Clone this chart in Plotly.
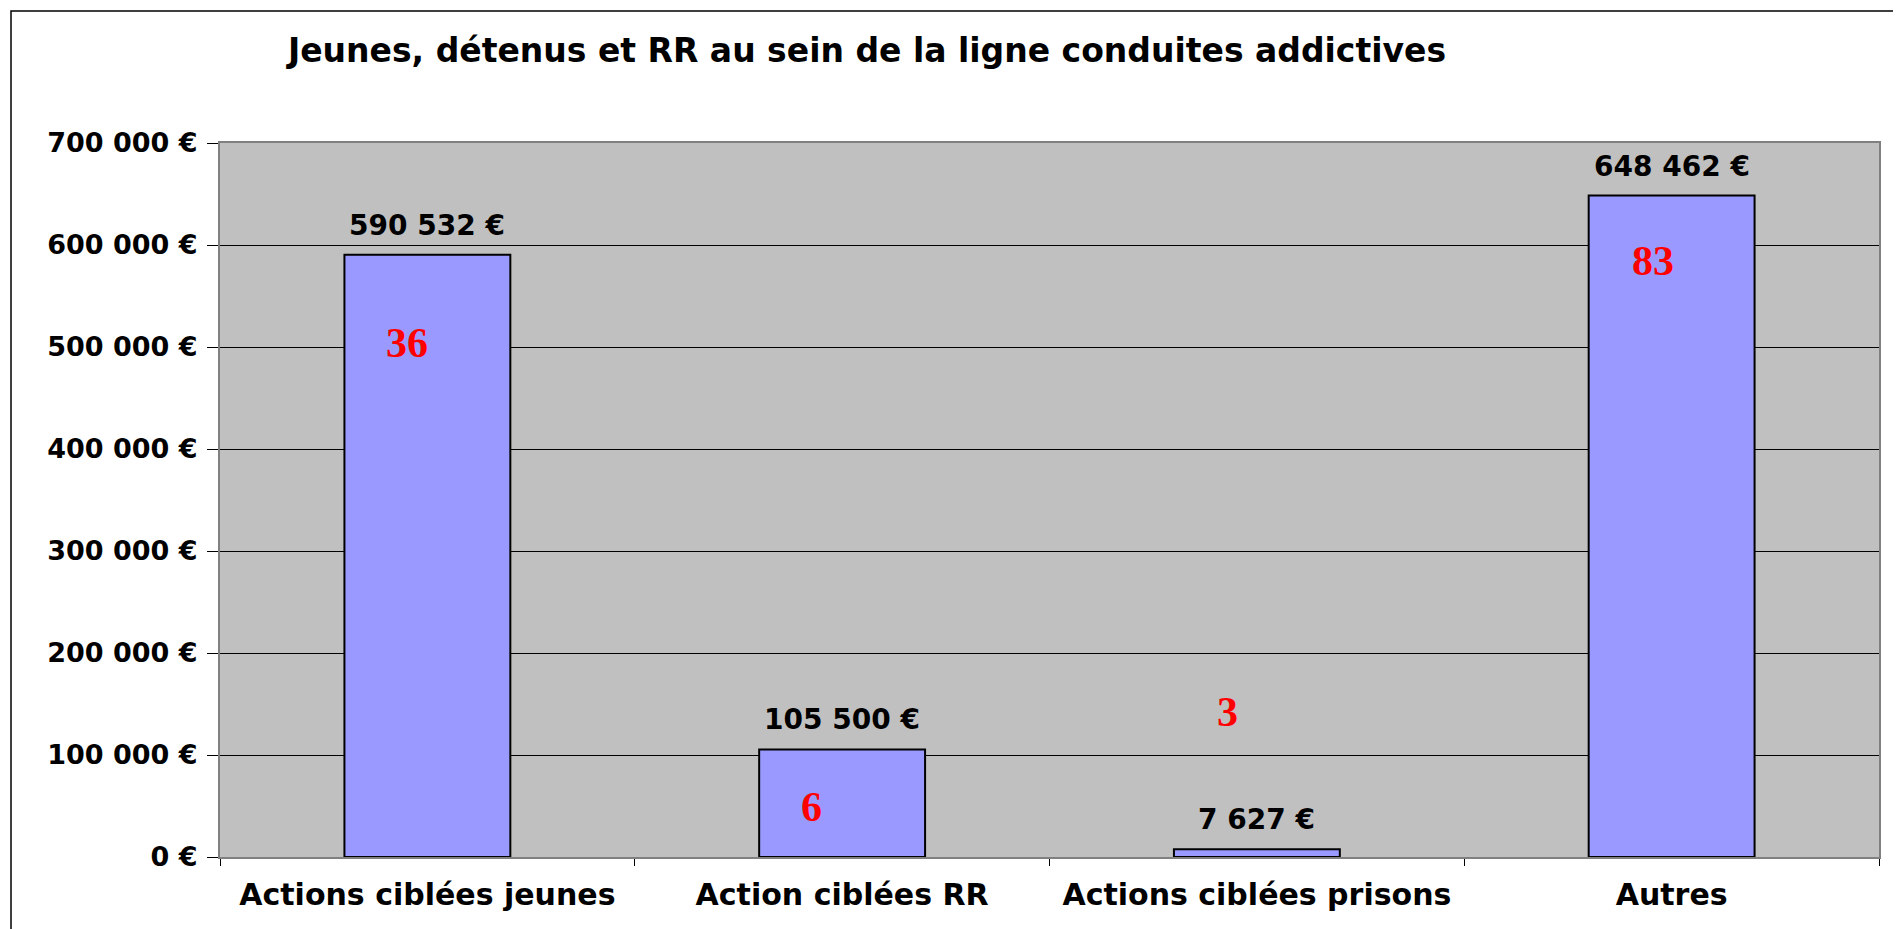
import plotly.graph_objects as go

# ---- data ----
categories = ["Actions ciblées jeunes", "Action ciblées RR", "Actions ciblées prisons", "Autres"]
montants = [590532, 105500, 7627, 648462]
nb_actions = [36, 6, 3, 83]
y_ticks = [0, 100000, 200000, 300000, 400000, 500000, 600000, 700000]
title_text = "Jeunes, détenus et RR au sein de la ligne conduites addictives"

# ---- label placement (not data) ----
count_label_y = [504000, 49000, 142000, 584000]
count_label_dx = [-0.05, -0.075, -0.07, -0.045]


def fmt_eur(v):
    return f"{v:,}".replace(",", " ") + " €"


W, H = 1901, 929
OFF = 8  # browser default body margin
PL, PT, PW, PH = 220, 143, 1659, 714  # plot area in window pixels
ML = PL - OFF
MT = PT - OFF
MR = W - ML - PW
MB = H - MT - PH
SANS = "DejaVu Sans"
SERIF = "Liberation Serif"

fig = go.Figure()
fig.add_trace(go.Bar(
    x=categories,
    y=montants,
    marker=dict(color="#9999FF", line=dict(color="#000000", width=2)),
    hoverinfo="skip",
))

annotations = []
for i, v in enumerate(montants):
    annotations.append(dict(
        x=i, y=v, xref="x", yref="y",
        text=fmt_eur(v),
        showarrow=False, yanchor="bottom", xanchor="center", yshift=11,
        font=dict(family=SANS, size=28, color="#000000", weight="bold"),
    ))
for i, n in enumerate(nb_actions):
    annotations.append(dict(
        x=i + count_label_dx[i], y=count_label_y[i], xref="x", yref="y",
        text=str(n), showarrow=False, yanchor="middle", xanchor="center",
        font=dict(family=SERIF, size=42, color="#FF0000", weight="bold"),
    ))

frame_x = 11 - OFF
frame_y = 11 - OFF
fig.update_layout(
    width=W, height=H,
    margin=dict(l=ML, r=MR, t=MT, b=MB, pad=0),
    paper_bgcolor="#FFFFFF",
    plot_bgcolor="#C0C0C0",
    separators=", ",
    bargap=0.6,
    showlegend=False,
    title=dict(
        text=title_text, x=(867 - OFF) / W, xanchor="center", y=1 - (50 - OFF) / H, yanchor="middle",
        font=dict(family=SANS, size=33, color="#000000", weight="bold"),
    ),
    annotations=annotations,
    shapes=[dict(
        type="rect", xref="paper", yref="paper",
        x0=(frame_x - ML) / PW, x1=1.3, y0=-0.3, y1=(MT + PH - frame_y) / PH,
        line=dict(color="#000000", width=1.5), fillcolor="rgba(0,0,0,0)", layer="below",
    )],
)
fig.update_xaxes(
    type="category",
    showline=True, linecolor="#808080", linewidth=2, mirror=True,
    ticks="outside", tickson="boundaries", ticklen=7, tickcolor="#000000", tickwidth=1,
    ticklabelstandoff=10,
    tickfont=dict(family=SANS, size=30, color="#000000", weight="bold"),
    showgrid=False,
)
fig.update_yaxes(
    range=[0, 700000],
    tickvals=y_ticks,
    ticktext=[fmt_eur(t) for t in y_ticks],
    showline=True, linecolor="#808080", linewidth=2, mirror=True,
    ticks="outside", ticklen=11, tickcolor="#000000", tickwidth=1,
    ticklabelstandoff=4,
    tickfont=dict(family=SANS, size=27, color="#000000", weight="bold"),
    showgrid=True, gridcolor="#000000", gridwidth=1,
    zeroline=True, zerolinecolor="#000000", zerolinewidth=1,
)

fig.write_html("out.html")
